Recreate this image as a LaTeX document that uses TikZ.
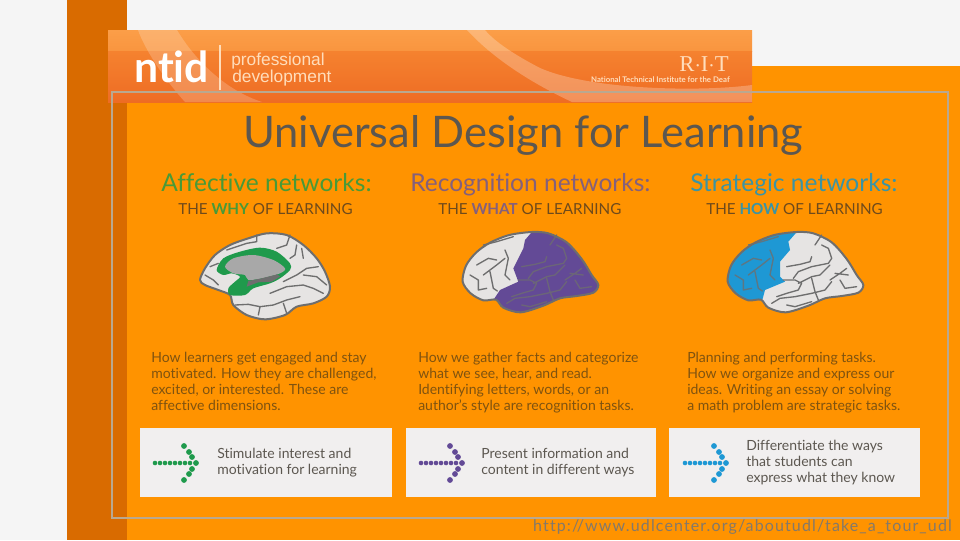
\documentclass[tikz,border=0pt]{standalone}
\usepackage{fontspec}
\setmainfont{Lato}[Ligatures=NoCommon]
\newfontfamily\urlfam{Lato}[Ligatures=NoCommon,LetterSpace=7]
\newfontfamily\serifam{Liberation Serif}
\newfontfamily\armfam{Liberation Sans}
\definecolor{pageorange}{HTML}{FF9300}
\definecolor{darkorange}{HTML}{D96B00}
\definecolor{pagegrey}{HTML}{F5F5F5}
\definecolor{framegrey}{HTML}{B9A890}
\definecolor{titlegrey}{HTML}{5C5750}
\definecolor{bodybrown}{HTML}{7F5310}
\definecolor{subbrown}{HTML}{6E4A1C}
\definecolor{affgreen}{HTML}{1F9A4C}
\definecolor{recpurple}{HTML}{634A96}
\definecolor{strblue}{HTML}{1E98D4}
\definecolor{affhead}{HTML}{489A38}
\definecolor{rechead}{HTML}{85607C}
\definecolor{strhead}{HTML}{3A94A5}
\definecolor{braingrey}{HTML}{E6E4E3}
\definecolor{sulcus}{HTML}{6E6E6E}
\definecolor{boxgrey}{HTML}{F1EFEF}
\definecolor{urlgrey}{HTML}{84796A}
\definecolor{bannertop}{HTML}{FB9E48}
\definecolor{bannermid}{HTML}{F9953F}
\definecolor{bannerlow}{HTML}{F5822F}
\definecolor{bannerend}{HTML}{EE6C24}
\definecolor{bannertext}{HTML}{FFDDBB}
\tikzset{
  heading/.style={anchor=base west,inner sep=0pt,font=\fontsize{18.4}{18.4}\selectfont},
  subhead/.style={anchor=base west,inner sep=0pt,font=\fontsize{11.4}{11.4}\selectfont,text=subbrown},
  bodytext/.style={anchor=north west,align=left,font=\fontsize{10.5}{12}\selectfont,text=bodybrown,inner sep=0pt},
  boxtext/.style={anchor=west,align=left,font=\fontsize{10.5}{12}\selectfont,text=titlegrey,inner sep=0pt},
  bannerword/.style={anchor=base west,inner sep=0pt,text=bannertext,font=\armfam\fontsize{13}{13}\selectfont},
  whitebox/.style={fill=boxgrey,draw=none},
  brainline/.style={draw=sulcus,line width=1.5pt,line join=round},
  fold/.style={draw=sulcus,line width=1pt,line cap=round,line join=round},
  softfold/.style={fold,draw=sulcus!75!recpurple}
}
% outline and folds of the side view, in units of 1/3 pixel
\newcommand{\brainpath}{plot[smooth cycle,tension=.5] coordinates {(38,170) (48,122) (78,83) (120,53) (178,30) (245,21) (295,25) (350,52) (395,102) (425,150) (445,180) (430,203) (380,213) (330,220) (280,242) (212,262) (160,248) (138,224) (100,226) (62,205)}}
\newcommand{\backfolds}{
  (80,120) -- (115,100) -- (140,105)
  (100,150) -- (140,120) -- (165,100)
  (60,150) -- (85,165) -- (85,195) -- (110,190)
  (120,140) -- (130,190) -- (142,198)
  (165,75) -- (175,100) -- (165,150) -- (180,165)
  (100,60) -- (140,50) -- (190,35)}
\newcommand{\frontfolds}{
  (215,125) -- (255,118) -- (285,110) -- (290,95)
  (235,160) -- (250,140) -- (290,125) -- (340,115) -- (350,100) -- (340,70) -- (320,60)
  (250,175) -- (290,155) -- (315,150) -- (345,120)
  (205,165) -- (240,165) -- (260,175) -- (250,195) -- (215,205) -- (185,215)
  (170,235) -- (195,220) -- (240,215) -- (290,205) -- (330,195) -- (350,170)
  (290,160) -- (300,200) -- (310,225)
  (345,165) -- (375,145) -- (395,130)
  (375,165) -- (390,190) -- (425,185)
  (360,145) -- (400,150)
  (300,60) -- (320,30)
  (215,240) -- (240,245) -- (290,230)}
\begin{document}
\begin{tikzpicture}[x=0.75pt,y=-0.75pt]
\useasboundingbox (0,0) rectangle (960,540);
\fill[pagegrey] (0,0) rectangle (960,540);
\fill[darkorange] (67,0) rectangle (127,540);
\fill[pageorange] (127,66) rectangle (960,540);
% banner
\begin{scope}
\clip (108,30) rectangle (752,102);
\shade[top color=bannertop,bottom color=bannermid] (108,30) rectangle (752,51);
\shade[top color=bannerlow,bottom color=bannerend] (108,51) rectangle (752,102);
\fill[white,opacity=.2] (138,30) .. controls (145,50) and (165,80) .. (185,102) -- (262,102) .. controls (225,90) and (195,60) .. (177,30) -- cycle;
\fill[white,opacity=.25] (467,30) .. controls (490,55) and (525,80) .. (572,102) -- (752,102) -- (752,85) .. controls (700,92) and (590,90) .. (540,68) .. controls (515,55) and (495,42) .. (485,30) -- cycle;
\end{scope}
\node[anchor=base west,inner sep=0pt,text=white,font=\bfseries\fontsize{32}{32}\selectfont] (ntid) at (134,82) {ntid};
\draw[bannertext,line width=.8pt] (220,45) coordinate (rulea) -- (220,90) coordinate (ruleb);
\node[bannerword] (prof) at (231,65.4) {professional};
\node[bannerword] (devel) at (232,82) {development};
\node[anchor=base east,inner sep=0pt,text=bannertext,font=\serifam\fontsize{17}{17}\selectfont] (rit) at (729,71) {R$\cdot$I$\cdot$T};
\node[anchor=base east,inner sep=0pt,text=bannertext,font=\bfseries\fontsize{5.85}{6}\selectfont] (ntidname) at (730,82) {National Technical Institute for the Deaf};
% frame
\draw[framegrey,line width=1.5pt] (112,92) rectangle (948,518);
% title
\node[anchor=base west,inner sep=0pt,text=titlegrey,font=\fontsize{32.6}{32.6}\selectfont] (title) at (243,147) {Universal Design for Learning};
% headings
\node[heading,text=affhead] (afftitle) at (161,191) {Affective networks:};
\node[heading,text=rechead] (rectitle) at (410,191) {Recognition networks:};
\node[heading,text=strhead] (strtitle) at (690,191) {Strategic networks:};
\node[subhead] (affsub) at (178,214) {THE \textcolor{affhead}{\bfseries WHY} OF LEARNING};
\node[subhead] (recsub) at (438,214) {THE \textcolor{rechead}{\bfseries WHAT} OF LEARNING};
\node[subhead] (strsub) at (706,214) {THE \textcolor{strhead}{\bfseries HOW} OF LEARNING};
% affective brain, medial view
\begin{scope}[shift={(190,225)},x=0.25pt,y=-0.25pt]
\draw[brainline,fill=braingrey] plot[smooth cycle,tension=.5] coordinates {(30,165) (45,130) (75,90) (120,60) (175,40) (230,25) (290,30) (340,60) (380,100) (405,140) (420,185) (410,215) (370,235) (320,245) (285,270) (225,283) (170,270) (130,240) (120,210) (85,195) (45,180)};
\fill[affgreen] plot[smooth cycle,tension=.5] coordinates {(80,135) (100,100) (150,80) (210,68) (260,80) (300,115) (300,135) (270,160) (240,175) (190,190) (165,210) (120,210) (115,190) (135,170) (150,155) (125,145) (100,150)};
\fill[sulcus!60!white] plot[smooth cycle,tension=.5] coordinates {(105,125) (130,100) (190,90) (250,105) (285,130) (270,145) (215,160) (175,165) (165,150) (130,145)};
\fill[sulcus] (170,185) -- (175,168) -- (215,160) -- (262,148) -- (270,155) -- (245,170) -- (205,172) -- cycle;
\draw[fold] (135,240) -- (175,238) -- (210,245) -- (250,240) -- (290,225) -- (330,215)
  (240,205) -- (290,185) -- (340,180) -- (370,190) -- (400,205)
  (340,150) -- (380,155) -- (410,180)
  (280,170) -- (320,150) -- (350,130) -- (385,125)
  (300,100) -- (315,90) -- (320,60)
  (260,70) -- (290,60) -- (300,30)
  (340,100) -- (335,70)
  (45,150) -- (70,165) -- (85,180)
  (60,125) -- (85,115)
  (110,75) -- (170,55) -- (200,50) -- (200,30)
  (205,270) -- (210,245)
  (290,265) -- (280,235);
\end{scope}
% recognition brain
\begin{scope}[shift={(450,225)},x=0.25pt,y=-0.25pt]
\fill[braingrey] \brainpath;
\begin{scope}
\clip \brainpath;
\fill[recpurple] (255,10) -- (225,45) -- (220,70) -- (190,130) -- (205,170) -- (150,195) -- (130,225) -- (130,280) -- (470,280) -- (470,10) -- cycle;
\end{scope}
\draw[fold] \backfolds;
\draw[softfold] \frontfolds;
\draw[brainline] \brainpath;
\end{scope}
% strategic brain
\begin{scope}[shift={(715,225)},x=0.25pt,y=-0.25pt]
\fill[braingrey] \brainpath;
\begin{scope}
\clip \brainpath;
\fill[strblue] (20,10) -- (255,10) -- (220,50) -- (225,75) -- (195,110) -- (195,155) -- (210,170) -- (150,195) -- (138,240) -- (20,240) -- cycle;
\end{scope}
\draw[fold,draw=sulcus!80!strblue] \backfolds;
\draw[fold] \frontfolds;
\draw[brainline] \brainpath;
\end{scope}
% body text
\node[bodytext] (affbody) at (151,352) {How learners get engaged and stay\\motivated. How they are challenged,\\excited, or interested. These are\\affective dimensions.};
\node[bodytext] (recbody) at (418,352) {How we gather facts and categorize\\what we see, hear, and read.\\Identifying letters, words, or an\\author's style are recognition tasks.};
\node[bodytext] (strbody) at (687,352) {Planning and performing tasks.\\How we organize and express our\\ideas. Writing an essay or solving\\a math problem are strategic tasks.};
% boxes
\fill[whitebox] (140,428) rectangle (392,497);
\fill[whitebox] (406,428) rectangle (656,497);
\fill[whitebox] (669,428) rectangle (920,497);
\node[boxtext] (afftext) at (217,463) {Stimulate interest and\\motivation for learning};
\node[boxtext] (rectext) at (481,463) {Present information and\\content in different ways};
\node[boxtext] (strtext) at (746,463) {Differentiate the ways\\that students can\\express what they know};
% dotted arrows
\foreach \x/\col in {155/affgreen,421/recpurple,685/strblue}{
  \foreach \d in {0,5,...,35}
    \fill[\col] (\x+\d,463) circle[radius=2.3];
  \foreach \dx/\dy in {29/-17,34/-11,37/-6,41/0,37/6,34/11,29/17}
    \fill[\col] (\x+\dx,463+\dy) circle[radius=2.9];
}
% source
\node[anchor=base east,inner sep=0pt,text=urlgrey,font=\urlfam\fontsize{12}{12}\selectfont] (source) at (952,531) {http://www.udlcenter.org/aboutudl/take\_a\_tour\_udl};
\end{tikzpicture}
\end{document}
